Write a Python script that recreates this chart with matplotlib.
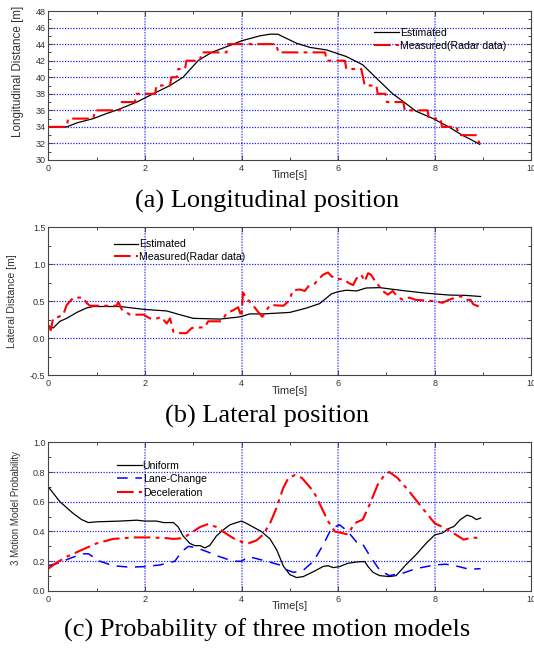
import matplotlib
matplotlib.use("Agg")
import matplotlib.pyplot as plt
from matplotlib.ticker import MultipleLocator

# ---------------- data ----------------
# (a) Longitudinal position
long_est_t = [0, 0.38, 0.6, 0.93, 1.2, 1.45, 1.83, 2.17, 2.52, 2.79, 3.1, 3.38, 3.83, 4.0,
              4.38, 4.59, 4.75, 5.14, 5.42, 5.76, 6.17, 6.51, 6.79, 7.13, 7.34, 7.61, 7.95,
              8.29, 8.57, 8.77, 8.93]
long_est_y = [34, 34, 34.5, 35.0, 35.6, 36.1, 37.0, 38.0, 39.0, 40.0, 42.0, 43.0, 44.0, 44.4,
              45.0, 45.2, 45.2, 44.1, 43.6, 43.3, 42.5, 41.5, 39.9, 38.0, 37.1, 35.9, 35.05,
              34.0, 33.0, 32.4, 31.9]

long_meas_t = [0, 0.38, 0.41, 0.93, 0.97, 1.48, 1.52, 1.79, 1.83, 2.21, 2.24, 2.52, 2.55, 2.66,
               2.69, 2.83, 2.86, 3.14, 3.17, 3.69, 3.72, 4.72, 4.76, 5.73, 5.76, 6.14, 6.17,
               6.48, 6.55, 6.79, 6.82, 6.98, 7.01, 7.35, 7.38, 7.85, 7.88, 8.12, 8.15, 8.45,
               8.5, 8.85, 8.93]
long_meas_y = [34, 34, 35, 35, 36, 36, 37, 37, 38, 38, 39, 39, 40, 40,
               41, 41, 42, 42, 43, 43, 44, 44, 43, 43, 42, 42, 41,
               41, 39, 39, 38, 38, 37, 37, 36, 36, 35, 35, 34, 34,
               33, 33, 32]

# (b) Lateral position
lat_est_t = [0, 0.1, 0.24, 0.38, 0.59, 0.79, 0.93, 1.48, 2.0, 2.45, 2.72, 3.0, 3.55, 3.97,
             4.17, 4.45, 5.0, 5.35, 5.62, 5.86, 6.0, 6.17, 6.38, 6.58, 6.86, 7.34, 7.82,
             8.29, 8.64, 8.95]
lat_est_y = [0.17, 0.14, 0.23, 0.27, 0.35, 0.41, 0.43, 0.43, 0.39, 0.37, 0.32, 0.27, 0.26, 0.29,
             0.33, 0.33, 0.35, 0.41, 0.47, 0.60, 0.63, 0.65, 0.64, 0.68, 0.685, 0.645, 0.61,
             0.585, 0.58, 0.565]

lat_meas_t = [0, 0.05, 0.1, 0.21, 0.31, 0.38, 0.45, 0.52, 0.72, 0.79, 0.86, 1.07, 1.41, 1.45,
              1.52, 1.69, 1.97, 2.1, 2.21, 2.34, 2.45, 2.52, 2.59, 2.66, 2.86, 2.97, 3.24, 3.31,
              3.59, 3.69, 3.83, 3.93, 4.0, 4.03, 4.1, 4.21, 4.34, 4.43, 4.59, 4.87, 4.97, 5.07,
              5.21, 5.31, 5.38, 5.52, 5.59, 5.69, 5.79, 5.86, 5.97, 6.1, 6.24, 6.31, 6.38, 6.48,
              6.55, 6.62, 6.68, 6.75, 6.82, 6.92, 7.03, 7.13, 7.23, 7.34, 7.47, 7.61, 8.02, 8.16,
              8.29, 8.43, 8.53, 8.64, 8.74, 8.8, 8.91]
lat_meas_y = [0.18, 0.11, 0.27, 0.29, 0.32, 0.45, 0.50, 0.55, 0.55, 0.48, 0.44, 0.44, 0.44, 0.49,
              0.39, 0.32, 0.32, 0.27, 0.26, 0.29, 0.20, 0.27, 0.09, 0.07, 0.07, 0.14, 0.15, 0.23,
              0.23, 0.34, 0.38, 0.42, 0.29, 0.62, 0.54, 0.47, 0.36, 0.29, 0.45, 0.44, 0.50, 0.65,
              0.66, 0.64, 0.70, 0.74, 0.80, 0.86, 0.89, 0.84, 0.80, 0.80, 0.74, 0.72, 0.81, 0.86,
              0.77, 0.88, 0.86, 0.79, 0.73, 0.64, 0.59, 0.64, 0.56, 0.52, 0.55, 0.52, 0.50, 0.48,
              0.52, 0.55, 0.57, 0.52, 0.52, 0.46, 0.43]

# (c) Probability of three motion models
uni_t = [0, 0.24, 0.52, 0.69, 0.83, 1.0, 1.48, 1.83, 2.0, 2.24, 2.38, 2.59, 2.69, 2.79, 2.93,
         3.03, 3.14, 3.24, 3.34, 3.48, 3.62, 3.76, 3.9, 4.0, 4.1, 4.24, 4.41, 4.59, 4.73, 4.87,
         5.0, 5.14, 5.28, 5.49, 5.69, 5.79, 5.9, 6.03, 6.2, 6.38, 6.55, 6.62, 6.72, 6.86, 7.06,
         7.2, 7.4, 7.61, 7.82, 8.0, 8.16, 8.29, 8.4, 8.53, 8.67, 8.77, 8.86, 8.95]
uni_p = [0.70, 0.60, 0.52, 0.48, 0.46, 0.465, 0.47, 0.476, 0.47, 0.47, 0.46, 0.46, 0.43, 0.37, 0.32,
         0.305, 0.305, 0.29, 0.305, 0.37, 0.41, 0.445, 0.46, 0.47, 0.455, 0.43, 0.40, 0.35, 0.275, 0.165,
         0.11, 0.09, 0.097, 0.13, 0.165, 0.17, 0.157, 0.164, 0.186, 0.195, 0.198, 0.164, 0.126, 0.103, 0.097,
         0.103, 0.175, 0.243, 0.32, 0.377, 0.39, 0.42, 0.434, 0.48, 0.51, 0.50, 0.48, 0.49]

lane_t = [0, 0.24, 0.45, 0.72, 0.83, 1.07, 1.34, 1.69, 2.0, 2.31, 2.62, 2.76, 2.9, 3.07, 3.28,
          3.55, 3.83, 4.0, 4.14, 4.28, 4.52, 4.79, 4.95, 5.08, 5.28, 5.49, 5.69, 5.86, 6.03,
          6.2, 6.38, 6.48, 6.65, 6.86, 7.06, 7.34, 7.61, 8.0, 8.23, 8.5, 8.71, 8.95]
lane_p = [0.17, 0.19, 0.22, 0.25, 0.25, 0.20, 0.17, 0.16, 0.164, 0.175, 0.20, 0.265, 0.30, 0.29, 0.265,
          0.23, 0.20, 0.20, 0.23, 0.22, 0.20, 0.175, 0.14, 0.125, 0.14, 0.20, 0.31, 0.42, 0.445,
          0.40, 0.33, 0.33, 0.24, 0.14, 0.103, 0.12, 0.15, 0.175, 0.18, 0.164, 0.146, 0.15]

dec_t = [0, 0.17, 0.38, 0.72, 1.0, 1.34, 1.76, 2.1, 2.45, 2.59, 2.79, 3.0, 3.14, 3.31, 3.48,
         3.66, 3.83, 4.0, 4.14, 4.31, 4.45, 4.59, 4.72, 4.86, 4.97, 5.11, 5.25, 5.49, 5.62, 5.79,
         5.93, 6.07, 6.2, 6.34, 6.51, 6.65, 6.82, 6.96, 7.06, 7.23, 7.47, 7.75, 8.0, 8.23, 8.43,
         8.6, 8.77, 8.95]
dec_p = [0.15, 0.19, 0.23, 0.28, 0.32, 0.35, 0.36, 0.36, 0.355, 0.35, 0.355, 0.40, 0.43, 0.45, 0.43,
         0.39, 0.355, 0.33, 0.32, 0.34, 0.38, 0.455, 0.555, 0.69, 0.76, 0.78, 0.76, 0.67, 0.585, 0.47,
         0.40, 0.39, 0.38, 0.455, 0.48, 0.58, 0.715, 0.78, 0.80, 0.76, 0.67, 0.555, 0.455, 0.42, 0.38,
         0.345, 0.36, 0.355]

xlabel = "Time[s]"
captions = ["(a) Longitudinal position", "(b) Lateral position",
            "(c) Probability of three motion models"]

# ---------------- style ----------------
plt.rcParams['font.family'] = ['Liberation Sans', 'DejaVu Sans']
RED_DASH = (0, (8, 2.5, 1.8, 2.5))
BLUE_DASH = (0, (7, 5))
grid_kw = dict(color='#2020ff', linestyle=(0, (1, 1.2)), linewidth=0.9)
vgrid_kw = dict(color='#6a6aff', linestyle=(0, (1, 0.8)), linewidth=1.1)

fig = plt.figure(figsize=(5.34, 6.48), dpi=100)
L, W = 0.0905, 0.9045
ax_a = fig.add_axes([L, 0.7531, W, 0.2299])
ax_b = fig.add_axes([L, 0.4208, W, 0.2284])
ax_c = fig.add_axes([L, 0.0880, W, 0.2295])


def style(ax, ylim, ymaj, ymin, yfmt, ylabel, ylab_size, ylab_xy):
    ax.set_xlim(0, 10)
    ax.set_ylim(*ylim)
    ax.xaxis.set_major_locator(MultipleLocator(2))
    ax.xaxis.set_minor_locator(MultipleLocator(1))
    ax.yaxis.set_major_locator(MultipleLocator(ymaj))
    ax.yaxis.set_minor_locator(MultipleLocator(ymin))
    ax.yaxis.set_major_formatter(plt.FormatStrFormatter(yfmt))
    ax.tick_params(which='both', direction='in', top=True, right=True,
                   labelsize=6.5, labelcolor='#333333', color='#444444')
    ax.tick_params(axis='x', which='major', pad=3)
    ax.tick_params(axis='y', which='major', pad=2)
    ax.tick_params(which='major', length=3.5, width=0.7)
    ax.tick_params(which='minor', length=2.5, width=0.7)
    for sp in ax.spines.values():
        sp.set_color('#444444')
        sp.set_linewidth(0.8)
    ax.set_ylabel(ylabel, fontsize=ylab_size, color='#333333')
    ax.yaxis.set_label_coords(*ylab_xy)
    ax.set_xlabel(xlabel, fontsize=8, color='#333333', labelpad=-2)
    for x in [2, 4, 6, 8]:
        ax.axvline(x, zorder=0, **vgrid_kw)
    lo, hi = ylim
    for tv in ax.get_yticks():
        if lo < tv < hi:
            ax.axhline(tv, zorder=0, **grid_kw)


leg_kw = dict(loc='upper left', frameon=False, fontsize=7.6, handlelength=2.3,
              handletextpad=0.1, labelspacing=0.25, borderpad=0, borderaxespad=0)

# (a)
style(ax_a, (30, 48), 2, 1, '%d', 'Longitudinal Distance [m]', 8.4, (-0.051, 0.594))
ax_a.plot(long_est_t, long_est_y, color='black', lw=0.9, label='Estimated')
ax_a.plot(long_meas_t, long_meas_y, color='red', lw=1.5, linestyle=RED_DASH,
          label='Measured(Radar data)')
ax_a.legend(bbox_to_anchor=(0.675, 0.885), **leg_kw)

# (b)
style(ax_b, (-0.5, 1.5), 0.5, 0.25, '%.1f', 'Lateral Distance [m]', 7.6, (-0.064, 0.5))
ax_b.plot(lat_est_t, lat_est_y, color='black', lw=0.9, label='Estimated')
ax_b.plot(lat_meas_t, lat_meas_y, color='red', lw=1.5, linestyle=RED_DASH,
          label='Measured(Radar data)')
ax_b.legend(bbox_to_anchor=(0.136, 0.918), **leg_kw)

# (c)
style(ax_c, (0, 1.0), 0.2, 0.1, '%.1f', '3 Motion Model Probability', 7.0, (-0.057, 0.558))
ax_c.plot(uni_t, uni_p, color='black', lw=0.9, label='Uniform')
ax_c.plot(lane_t, lane_p, color='blue', lw=1.1, linestyle=BLUE_DASH, label='Lane-Change')
ax_c.plot(dec_t, dec_p, color='red', lw=1.5, linestyle=RED_DASH, label='Deceleration')
leg_c = dict(leg_kw, labelspacing=0.33)
ax_c.legend(bbox_to_anchor=(0.143, 0.877), **leg_c)

# captions
for ypix, cap in zip([201, 416, 630], captions):
    fig.text(0.5, 1 - ypix / 648, cap, ha='center', va='center',
             fontsize=19, family='Liberation Serif', color='black')

fig.savefig('out.png', dpi=100)
